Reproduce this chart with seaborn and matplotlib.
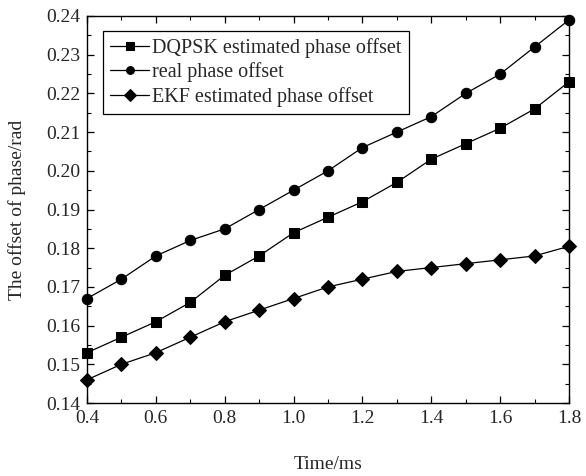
import matplotlib
matplotlib.use("Agg")
import matplotlib.pyplot as plt
import seaborn as sns
import pandas as pd
from matplotlib.ticker import MultipleLocator

time_ms = [0.4, 0.5, 0.6, 0.7, 0.8, 0.9, 1.0, 1.1, 1.2, 1.3, 1.4, 1.5, 1.6, 1.7, 1.8]
dqpsk = [0.153, 0.157, 0.161, 0.166, 0.173, 0.178, 0.184, 0.188, 0.192, 0.197,
         0.203, 0.207, 0.211, 0.216, 0.223]
real = [0.167, 0.172, 0.178, 0.182, 0.185, 0.190, 0.195, 0.200, 0.206, 0.210,
        0.214, 0.220, 0.225, 0.232, 0.239]
ekf = [0.146, 0.150, 0.153, 0.157, 0.161, 0.164, 0.167, 0.170, 0.172, 0.174,
       0.175, 0.176, 0.177, 0.178, 0.1805]

series_names = ["DQPSK estimated phase offset", "real phase offset", "EKF estimated phase offset"]
markers = ["s", "o", "D"]

df = pd.DataFrame({"time": time_ms * 3,
                   "offset": dqpsk + real + ekf,
                   "series": [series_names[0]] * 15 + [series_names[1]] * 15 + [series_names[2]] * 15})

sns.set_style("ticks")
plt.rcParams['font.family'] = ['Liberation Serif', 'DejaVu Serif']

fig = plt.figure(figsize=(5.86, 4.76), dpi=100)
ax = fig.add_axes([87 / 586, 1 - 403 / 476, (569 - 87) / 586, (403 - 16) / 476])

sns.lineplot(data=df, x="time", y="offset", hue="series", style="series",
             markers=dict(zip(series_names, markers)), dashes=False,
             palette=["black"] * 3, markersize=7.5, linewidth=0.9,
             markeredgecolor="black", ax=ax, clip_on=False)

ax.set_xlim(0.4, 1.8)
ax.set_ylim(0.14, 0.24)
ax.xaxis.set_major_locator(MultipleLocator(0.2))
ax.xaxis.set_minor_locator(MultipleLocator(0.1))
ax.yaxis.set_major_locator(MultipleLocator(0.01))
ax.yaxis.set_minor_locator(MultipleLocator(0.005))
ax.xaxis.set_major_formatter(plt.FormatStrFormatter('%.1f'))
ax.yaxis.set_major_formatter(plt.FormatStrFormatter('%.2f'))
ax.tick_params(which="both", direction="in", top=True, right=True, labelsize=14, color="black")
ax.tick_params(which="major", length=5, width=0.9, pad=5)
ax.tick_params(which="minor", length=3, width=0.8)
for s in ax.spines.values():
    s.set_linewidth(1.0)
    s.set_color("black")

ax.set_xlabel("Time/ms", fontsize=14, labelpad=21)
ax.set_ylabel("The offset of phase/rad", fontsize=14, labelpad=14)

leg = ax.legend(loc="upper left", bbox_to_anchor=(0.033, 0.961), fontsize=14.5,
                frameon=True, fancybox=False, edgecolor="black", framealpha=1,
                handlelength=1.95, handletextpad=0.15, borderpad=0.35, labelspacing=0.22,
                borderaxespad=0.0, markerscale=0.75)
leg.get_frame().set_linewidth(0.9)

fig.savefig("out.png", dpi=100)
